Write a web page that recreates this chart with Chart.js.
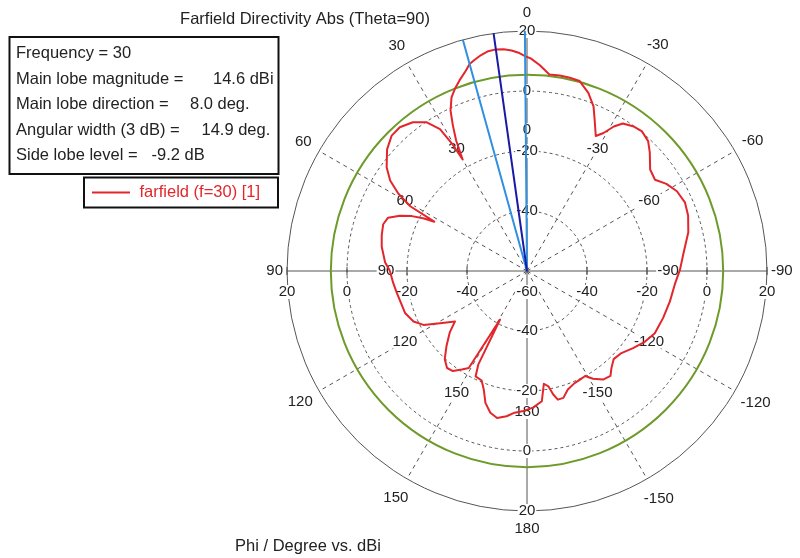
<!DOCTYPE html>
<html>
<head>
<meta charset="utf-8">
<title>Farfield Directivity Abs (Theta=90)</title>
<script src="https://cdn.jsdelivr.net/npm/chart.js@4.4.1/dist/chart.umd.min.js"></script>
<style>
  html, body { margin: 0; padding: 0; background: #fff; }
</style>
</head>
<body>
<canvas id="farfield" width="800" height="558"></canvas>
<script>
// Farfield cut at Theta=90, f=30: directivity (dBi) against phi (deg)
const phiDeg = [
  -177.5, -173.5, -171.5, -169.5, -168, -166.5, -164, -161, -157, -154,
  -151, -148.5, -145, -141.5, -139, -135.5, -131, -126, -121, -116,
  -109, -102, -95, -89.5, -83.5, -76.5, -71, -66.5, -62, -58,
  -54.5, -50.5, -46, -43, -39.5, -36.5, -33, -31, -29, -27,
  -24, -22, -19, -15.5, -12.5, -9.5, -6.5, -3.5, -1, 0.5,
  2, 4, 6, 8, 10, 12, 14, 15.5, 17, 19.5,
  21.5, 23.5, 25.5, 27, 28.5, 30, 30.5, 31.5, 34, 37.5,
  41.5, 45, 49, 53.5, 56.5, 59, 61, 62, 63, 64.5,
  66.5, 69, 72, 76, 80.5, 86.5, 90, 95, 99.5, 109,
  114, 117.5, 121, 125, 128.5, 133, 137, 140.5, 143.5, 146.5,
  149, 151, 152.5, 154, 157.5, 160, 162.5, 165.5, 168.5, 172,
  175, 178.5, 180
];
const directivity = [
  -14.4, -16.3, -22.0, -20.9, -17.9, -15.9, -16.0, -18.2, -19.4, -19.7,
  -20.0, -17.9, -15.8, -15.3, -17.1, -18.8, -18.3, -16.3, -14.2, -12.6,
  -12.0, -11.3, -10.5, -9.0, -7.5, -4.7, -3.2, -2.6, -3.4, -5.2,
  -7.6, -6.8, -3.1, -0.8, 0.3, -0.1, -1.4, -3.8, -7.4, -9.5,
  -4.6, -0.8, 2.8, 5.7, 6.0, 6.1, 5.9, 8.8, 10.9, 11.6,
  12.7, 13.7, 14.3, 14.6, 14.4, 13.6, 12.5, 11.6, 9.8, 7.4,
  5.4, 3.1, -0.8, -5.6, -10.5, -17.1, -10.6, -4.5, -0.2, 2.5,
  4.0, 3.8, 1.8, -1.8, -5.3, -10.0, -15.5, -25.0, -21.5, -17.5,
  -13.8, -10.4, -9.6, -10.1, -10.9, -12.6, -14.3, -15.2, -16.0, -17.0,
  -18.6, -21.1, -26.2, -30.7, -27.1, -23.3, -19.8, -18.1, -18.5, -20.6,
  -22.3, -41.5, -24.8, -20.9, -20.5, -17.9, -13.9, -11.2, -10.0, -11.1,
  -12.6, -13.3, -13.8
];

const radialTicks = [-60, -40, -20, 0, 20];
const angleTicks = [0, 30, 60, 90, 120, 150, 180, -150, -120, -90, -60, -30];

const frequency = 30;
const mainLobeMagnitude = 14.6;
const mainLobeDirection = 8.0;
const angularWidth = 14.9;
const sideLobeLevel = -9.2;

const rMin = radialTicks[0];
const rMax = radialTicks[radialTicks.length - 1];
const STEP = 0.5;
const N = 360 / STEP;

// radar index runs clockwise from the top, phi runs counter-clockwise
function phiToIndex(phi) {
  return ((Math.round(-phi / STEP) % N) + N) % N;
}

const labels = [];
for (let i = 0; i < N; i++) {
  let p = -i * STEP;
  if (p <= -180) p += 360;
  labels.push(p);
}

function series(phis, values) {
  const data = new Array(N).fill(null);
  phis.forEach((p, k) => { data[phiToIndex(p)] = values[k]; });
  return data;
}

// a ray from the centre (scale min) out to the rim (scale max)
function ray(phi) {
  const i = phiToIndex(phi);
  const data = new Array(N).fill(null);
  data[i] = rMax;
  data[(i + 1) % N] = rMin;
  return data;
}

const FONT = '"Liberation Sans", Arial, sans-serif';
const TEXT = '#222';

function boxedText(ctx, text, x, y) {
  const w = ctx.measureText(text).width;
  ctx.fillStyle = '#fff';
  ctx.fillRect(x - w / 2 - 1, y - 7, w + 2, 14);
  ctx.fillStyle = TEXT;
  ctx.fillText(text, x, y);
}

const decor = {
  id: 'farfieldDecor',
  beforeDatasetsDraw(chart) {
    const ctx = chart.ctx;
    const r = chart.scales.r;
    const cx = r.xCenter, cy = r.yCenter, R = r.drawingArea;
    ctx.save();

    // small tick marks where the rings cross the two axes
    ctx.strokeStyle = '#444';
    ctx.lineWidth = 1;
    ctx.beginPath();
    radialTicks.forEach(v => {
      const d = r.getDistanceFromCenterForValue(v);
      if (d === 0) return;
      [-1, 1].forEach(s => {
        ctx.moveTo(cx + s * d, cy - 4); ctx.lineTo(cx + s * d, cy + 4);
        ctx.moveTo(cx - 4, cy + s * d); ctx.lineTo(cx + 4, cy + s * d);
      });
    });
    ctx.stroke();

    ctx.font = '15px ' + FONT;
    ctx.textAlign = 'center';
    ctx.textBaseline = 'middle';

    // dB values along the vertical and horizontal axes
    radialTicks.forEach(v => {
      const d = r.getDistanceFromCenterForValue(v);
      const t = String(v);
      if (d === 0) {
        boxedText(ctx, t, cx, cy + 21);
        return;
      }
      boxedText(ctx, t, cx, cy - d);
      boxedText(ctx, t, cx, cy + d);
      boxedText(ctx, t, cx - d, cy + 21);
      boxedText(ctx, t, cx + d, cy + 21);
    });

    // inner phi labels
    angleTicks.forEach(p => {
      const a = p * Math.PI / 180;
      const d = R * 0.5875;
      boxedText(ctx, String(p), cx - d * Math.sin(a), cy - d * Math.cos(a));
    });

    // side lobe level ring
    ctx.strokeStyle = '#6e9a2a';
    ctx.lineWidth = 2;
    ctx.beginPath();
    ctx.arc(cx, cy, r.getDistanceFromCenterForValue(mainLobeMagnitude + sideLobeLevel), 0, Math.PI * 2);
    ctx.stroke();

    ctx.restore();
  },
  afterDraw(chart) {
    const ctx = chart.ctx;
    const r = chart.scales.r;
    const cx = r.xCenter, cy = r.yCenter, R = r.drawingArea;
    ctx.save();

    // outer phi labels
    ctx.font = '15px ' + FONT;
    ctx.textAlign = 'center';
    ctx.textBaseline = 'middle';
    ctx.fillStyle = TEXT;
    angleTicks.forEach(p => {
      const t = String(p);
      const a = p * Math.PI / 180;
      const ux = -Math.sin(a), uy = -Math.cos(a);
      const w = ctx.measureText(t).width;
      const d = R + 4 + 7.5 * Math.abs(uy) + (w / 2) * Math.abs(ux) + 6.5 * Math.abs(uy);
      ctx.fillText(t, cx + d * ux, cy + d * uy);
    });

    ctx.font = '16.5px ' + FONT;
    ctx.fillText('Farfield Directivity Abs (Theta=90)', 305, 19);
    ctx.fillText('Phi / Degree vs. dBi', 308, 546);

    // result summary box
    ctx.strokeStyle = '#111';
    ctx.lineWidth = 2;
    ctx.strokeRect(9.5, 37, 269, 137);
    ctx.textAlign = 'left';
    const rows = [
      ['Frequency = ' + frequency, '', 0],
      ['Main lobe magnitude =', mainLobeMagnitude.toFixed(1) + ' dBi', 213],
      ['Main lobe direction =', mainLobeDirection.toFixed(1) + ' deg.', 190],
      ['Angular width (3 dB) =', angularWidth.toFixed(1) + ' deg.', 201.5],
      ['Side lobe level =', sideLobeLevel.toFixed(1) + ' dB', 151.5]
    ];
    rows.forEach((row, k) => {
      const y = 53.5 + k * 25.5;
      ctx.fillText(row[0], 16, y);
      if (row[1]) ctx.fillText(row[1], row[2], y);
    });

    // legend
    ctx.strokeRect(84, 177.5, 194, 30);
    ctx.strokeStyle = '#e3262b';
    ctx.beginPath();
    ctx.moveTo(92, 192.5);
    ctx.lineTo(130, 192.5);
    ctx.stroke();
    ctx.fillStyle = '#e3262b';
    ctx.fillText('farfield (f=' + frequency + ') [1]', 139.5, 192.5);

    ctx.restore();
  }
};

const beamLow = Math.round((mainLobeDirection - angularWidth / 2) / STEP) * STEP;
const beamHigh = Math.round((mainLobeDirection + angularWidth / 2) / STEP) * STEP;

new Chart(document.getElementById('farfield'), {
  type: 'radar',
  data: {
    labels: labels,
    datasets: [
      {
        label: 'main lobe direction',
        data: ray(mainLobeDirection),
        borderColor: '#1a1aa6',
        borderWidth: 2
      },
      {
        label: '3 dB width',
        data: ray(beamLow),
        borderColor: '#2f8fe0',
        borderWidth: 2
      },
      {
        label: '3 dB width',
        data: ray(beamHigh),
        borderColor: '#2f8fe0',
        borderWidth: 2
      },
      {
        label: 'farfield (f=30) [1]',
        data: series(phiDeg, directivity),
        borderColor: '#e3262b',
        borderWidth: 2,
        borderJoinStyle: 'round'
      }
    ]
  },
  options: {
    responsive: false,
    animation: false,
    events: [],
    layout: { padding: { left: 287, right: 33, top: 31, bottom: 47 } },
    elements: {
      point: { radius: 0, hoverRadius: 0 },
      line: { tension: 0, fill: false, spanGaps: true }
    },
    datasets: { radar: { spanGaps: true, fill: false } },
    plugins: {
      legend: { display: false },
      tooltip: { enabled: false },
      title: { display: false }
    },
    scales: {
      r: {
        min: rMin,
        max: rMax,
        startAngle: 0,
        ticks: { display: false, stepSize: 20 },
        pointLabels: { display: false },
        grid: { circular: true, color: '#555', lineWidth: 1 },
        border: { dash: c => (c.tick && c.tick.value === rMax ? [] : [3, 3]) },
        angleLines: {
          color: '#555',
          lineWidth: c => (c.index % 60 === 0 ? 1 : 0),
          borderDash: c => (c.index % 180 === 0 ? [] : [4, 4])
        }
      }
    }
  },
  plugins: [decor]
});
</script>
</body>
</html>
